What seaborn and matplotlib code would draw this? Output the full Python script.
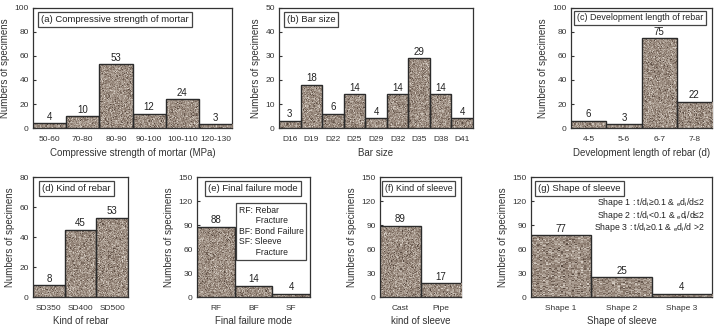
import numpy as np
import pandas as pd
import matplotlib
matplotlib.use("Agg")
import matplotlib.pyplot as plt
from matplotlib.colors import LinearSegmentedColormap
import seaborn as sns

# data
mortar_cats = ["50-60", "70-80", "80-90", "90-100", "100-110", "120-130"]
mortar_vals = [4, 10, 53, 12, 24, 3]
bar_cats = ["D16", "D19", "D22", "D25", "D29", "D32", "D35", "D38", "D41"]
bar_vals = [3, 18, 6, 14, 4, 14, 29, 14, 4]
dev_cats = ["4-5", "5-6", "6-7", "7-8"]
dev_vals = [6, 3, 75, 22]
rebar_cats = ["SD350", "SD400", "SD500"]
rebar_vals = [8, 45, 53]
fail_cats = ["RF", "BF", "SF"]
fail_vals = [88, 14, 4]
sleeve_cats = ["Cast", "Pipe"]
sleeve_vals = [89, 17]
shape_cats = ["Shape 1", "Shape 2", "Shape 3"]
shape_vals = [77, 25, 4]
shape_notes = [
    r"Shape 1 : t/d$_\mathrm{i}$≥0.1 & $_\mathrm{e}$d$_\mathrm{i}$/d≤2",
    r"Shape 2 : t/d$_\mathrm{i}$<0.1 & $_\mathrm{e}$d$_\mathrm{i}$/d≤2",
    r"Shape 3 : t/d$_\mathrm{i}$≥0.1 & $_\mathrm{e}$d$_\mathrm{i}$/d >2",
]

sns.set_style("ticks")
plt.rcParams["font.family"] = ["Liberation Sans", "DejaVu Sans"]
plt.rcParams["mathtext.fontset"] = "custom"
plt.rcParams["mathtext.rm"] = "Liberation Sans"
plt.rcParams["axes.edgecolor"] = "#333333"
plt.rcParams["axes.linewidth"] = 0.9

W, H = 715, 330
fig = plt.figure(figsize=(W / 100, H / 100), dpi=100)

# speckle texture for the bar fill (styling only)
rng = np.random.default_rng(3)
granite = LinearSegmentedColormap.from_list(
    "granite", ["#54463d", "#807064", "#9e8f83", "#bbb0a5", "#dbd2c9"])


def make_ax(x0, x1, ytop, ybot):
    return fig.add_axes([x0 / W, 1 - ybot / H, (x1 - x0) / W, (ybot - ytop) / H])


def panel(ax, cats, vals, ymax, ystep, xlabel, title, title_x=0.04, title_fs=6.8,
          title_y=0.94):
    df = pd.DataFrame({"cat": cats, "n": vals})
    sns.barplot(data=df, x="cat", y="n", ax=ax, width=1.0, color="#9a8b7e",
                edgecolor="#2b2b2b", linewidth=1.0, zorder=3)
    for p in ax.patches:
        x0, y0 = p.get_x(), p.get_y()
        w, h = p.get_width(), p.get_height()
        noise = np.clip(rng.normal(0.5, 0.2, (max(int(h / ymax * 120), 3), 40)), 0, 1)
        im = ax.imshow(noise, cmap=granite, vmin=0, vmax=1,
                       extent=(x0, x0 + w, y0, y0 + h),
                       aspect="auto", zorder=3.5, interpolation="nearest")
        im.set_clip_path(p)
        p.set_facecolor("none")
        p.set_zorder(4)
    for i, v in enumerate(vals):
        ax.text(i, v + ymax * 0.028, str(v), ha="center", va="baseline",
                fontsize=7, color="#222222")
    ax.set_xlim(-0.5, len(cats) - 0.5)
    ax.set_ylim(0, ymax)
    ax.set_yticks(np.arange(0, ymax + 1, ystep))
    ax.set_xlabel(xlabel, fontsize=7, color="#333333", labelpad=3)
    ax.set_ylabel("Numbers of specimens", fontsize=7, color="#333333", labelpad=3)
    ax.tick_params(axis="both", labelsize=6, colors="#333333", length=2,
                   direction="in", pad=3)
    ax.tick_params(axis="x", length=0, pad=6)
    ax.text(title_x, title_y, title, transform=ax.transAxes, ha="left", va="top",
            fontsize=title_fs, color="#222222",
            bbox=dict(boxstyle="square,pad=0.32", fc="white", ec="#444444", lw=0.9))


ax = make_ax(33, 232, 8, 128)
panel(ax, mortar_cats, mortar_vals, 100, 20,
      "Compressive strength of mortar (MPa)", "(a) Compressive strength of mortar")

ax = make_ax(279, 473, 8, 128)
panel(ax, bar_cats, bar_vals, 50, 10, "Bar size", "(b) Bar size")

ax = make_ax(571, 712, 8, 128)
panel(ax, dev_cats, dev_vals, 100, 20,
      "Development length of rebar (d)", "(c) Development length of rebar",
      title_x=0.04, title_fs=6.4, title_y=0.955)

ax = make_ax(33, 128, 177, 297)
panel(ax, rebar_cats, rebar_vals, 80, 20, "Kind of rebar", "(d) Kind of rebar", title_x=0.1)

ax = make_ax(197, 310, 177, 297)
panel(ax, fail_cats, fail_vals, 150, 30, "Final failure mode", "(e) Final failure mode",
      title_x=0.1)
ax.text(0.37, 0.76, "RF: Rebar\n       Fracture\nBF: Bond Failure\nSF: Sleeve\n       Fracture",
        transform=ax.transAxes, ha="left", va="top", fontsize=6.2, color="#222222",
        linespacing=1.22,
        bbox=dict(boxstyle="square,pad=0.3", fc="white", ec="#444444", lw=0.9))

ax = make_ax(380, 461, 177, 297)
panel(ax, sleeve_cats, sleeve_vals, 150, 30, "kind of sleeve", "(f) Kind of sleeve",
      title_x=0.06, title_fs=6.5)

ax = make_ax(531, 712, 177, 297)
panel(ax, shape_cats, shape_vals, 150, 30, "Shape of sleeve", "(g) Shape of sleeve")
for note, yy in zip(shape_notes, [0.785, 0.68, 0.575]):
    ax.text(0.96, yy, note, transform=ax.transAxes, ha="right", va="center",
            fontsize=6.3, color="#222222")

fig.savefig("out.png", dpi=100)
